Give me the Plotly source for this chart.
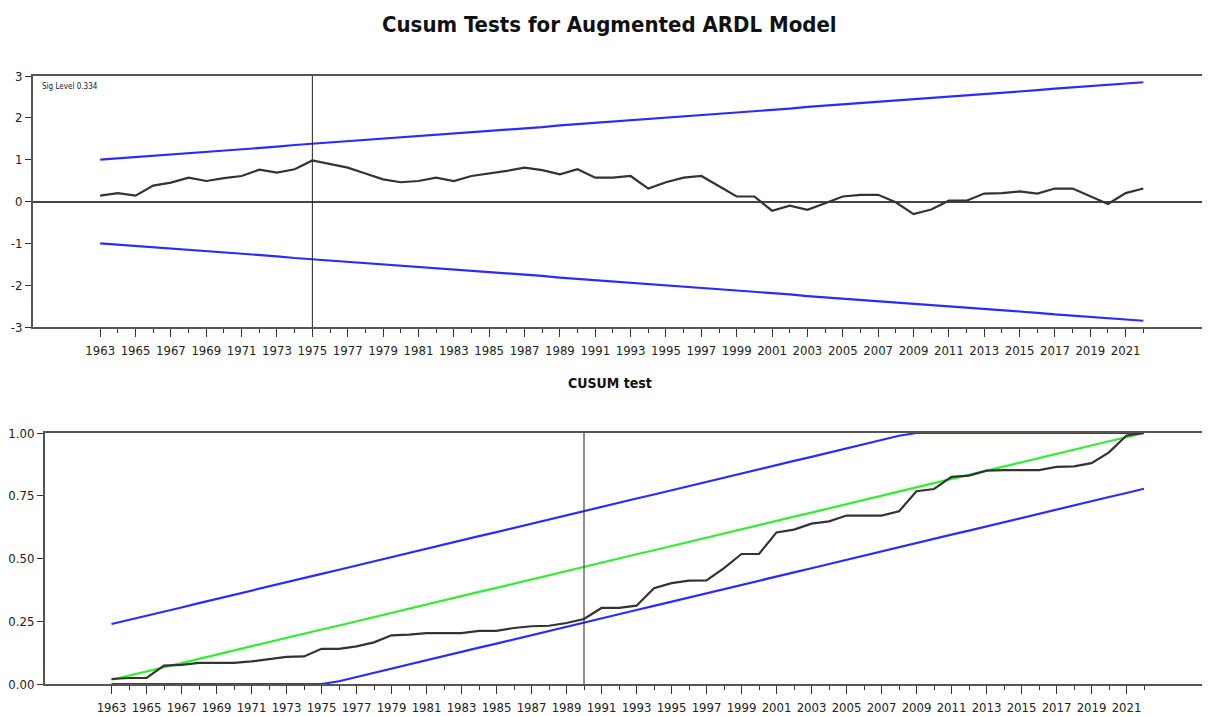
import plotly.graph_objects as go

FONT = "DejaVu Sans Condensed, Liberation Sans Narrow, Arial Narrow, sans-serif"

years = list(range(1963, 2023))

# top panel: CUSUM with 5% bounds
cusum = [
    0.14, 0.20, 0.14, 0.38, 0.45, 0.57, 0.49, 0.56, 0.61, 0.76,
    0.69, 0.77, 0.98, 0.89, 0.81, 0.67, 0.53, 0.46, 0.49, 0.57,
    0.49, 0.61, 0.67, 0.73, 0.81, 0.75, 0.65, 0.77, 0.57, 0.57,
    0.61, 0.31, 0.46, 0.57, 0.61, 0.37, 0.12, 0.12, -0.22, -0.10,
    -0.20, -0.04, 0.12, 0.16, 0.16, -0.02, -0.30, -0.19, 0.02, 0.02,
    0.19, 0.20, 0.24, 0.19, 0.31, 0.31, 0.12, -0.06, 0.20, 0.31,
]
cusum_upper = [
    1.00, 1.03, 1.06, 1.09, 1.13, 1.16, 1.19, 1.22, 1.25, 1.28,
    1.31, 1.35, 1.38, 1.41, 1.44, 1.47, 1.50, 1.53, 1.56, 1.60,
    1.63, 1.66, 1.69, 1.72, 1.75, 1.78, 1.82, 1.85, 1.88, 1.91,
    1.94, 1.97, 2.00, 2.04, 2.07, 2.10, 2.13, 2.16, 2.19, 2.22,
    2.26, 2.29, 2.32, 2.35, 2.38, 2.41, 2.44, 2.48, 2.51, 2.54,
    2.57, 2.60, 2.63, 2.66, 2.70, 2.73, 2.76, 2.79, 2.82, 2.85,
]
cusum_lower = [
    -1.00, -1.03, -1.06, -1.09, -1.13, -1.16, -1.19, -1.22, -1.25, -1.28,
    -1.31, -1.35, -1.38, -1.41, -1.44, -1.47, -1.50, -1.53, -1.56, -1.60,
    -1.63, -1.66, -1.69, -1.72, -1.75, -1.78, -1.82, -1.85, -1.88, -1.91,
    -1.94, -1.97, -2.00, -2.04, -2.07, -2.10, -2.13, -2.16, -2.19, -2.22,
    -2.26, -2.29, -2.32, -2.35, -2.38, -2.41, -2.44, -2.48, -2.51, -2.54,
    -2.57, -2.60, -2.63, -2.66, -2.70, -2.73, -2.76, -2.79, -2.82, -2.85,
]

# bottom panel: CUSUM of squares with expected path and bounds
cusumsq = [
    0.020, 0.024, 0.024, 0.073, 0.076, 0.084, 0.084, 0.084, 0.090, 0.100,
    0.108, 0.110, 0.140, 0.140, 0.150, 0.166, 0.194, 0.197, 0.203, 0.203,
    0.203, 0.212, 0.212, 0.223, 0.230, 0.232, 0.243, 0.259, 0.303, 0.303,
    0.312, 0.382, 0.402, 0.412, 0.413, 0.462, 0.518, 0.518, 0.604, 0.615,
    0.639, 0.648, 0.671, 0.671, 0.671, 0.688, 0.768, 0.777, 0.825, 0.830,
    0.850, 0.852, 0.852, 0.852, 0.865, 0.867, 0.880, 0.923, 0.990, 1.000,
]
cusumsq_expected = [
    0.017, 0.033, 0.050, 0.067, 0.083, 0.100, 0.117, 0.133, 0.150, 0.167,
    0.183, 0.200, 0.217, 0.233, 0.250, 0.267, 0.283, 0.300, 0.317, 0.333,
    0.350, 0.367, 0.383, 0.400, 0.417, 0.433, 0.450, 0.467, 0.483, 0.500,
    0.517, 0.533, 0.550, 0.567, 0.583, 0.600, 0.617, 0.633, 0.650, 0.667,
    0.683, 0.700, 0.717, 0.733, 0.750, 0.767, 0.783, 0.800, 0.817, 0.833,
    0.850, 0.867, 0.883, 0.900, 0.917, 0.933, 0.950, 0.967, 0.983, 1.000,
]
cusumsq_upper = [
    0.239, 0.255, 0.272, 0.289, 0.305, 0.322, 0.339, 0.355, 0.372, 0.389,
    0.405, 0.422, 0.439, 0.455, 0.472, 0.489, 0.505, 0.522, 0.539, 0.555,
    0.572, 0.589, 0.605, 0.622, 0.639, 0.655, 0.672, 0.689, 0.705, 0.722,
    0.739, 0.755, 0.772, 0.789, 0.805, 0.822, 0.839, 0.855, 0.872, 0.889,
    0.905, 0.922, 0.939, 0.955, 0.972, 0.989, 1.000, 1.000, 1.000, 1.000,
    1.000, 1.000, 1.000, 1.000, 1.000, 1.000, 1.000, 1.000, 1.000, 1.000,
]
cusumsq_lower = [
    0.000, 0.000, 0.000, 0.000, 0.000, 0.000, 0.000, 0.000, 0.000, 0.000,
    0.000, 0.000, 0.000, 0.011, 0.028, 0.045, 0.061, 0.078, 0.095, 0.111,
    0.128, 0.145, 0.161, 0.178, 0.195, 0.211, 0.228, 0.245, 0.261, 0.278,
    0.295, 0.311, 0.328, 0.345, 0.361, 0.378, 0.395, 0.411, 0.428, 0.445,
    0.461, 0.478, 0.495, 0.511, 0.528, 0.545, 0.561, 0.578, 0.595, 0.611,
    0.628, 0.645, 0.661, 0.678, 0.695, 0.711, 0.728, 0.745, 0.761, 0.778,
]

break_top = 1975
break_bottom = 1990
tick_years = list(range(1963, 2023, 2))
minor_years = list(range(1964, 2023, 2))
top_yticks = [-3, -2, -1, 0, 1, 2, 3]
bottom_yticks = [0, 0.25, 0.5, 0.75, 1.0]

BLUE = "#2b2bff"
GREEN = "#30ee30"
DARK = "#333333"

# the page body has an 8px margin, so the figure is sized to sit inside it
W, H = 1202, 708
OFF = 8


def px(x):
    return (x - OFF) / W


def py(y):
    return (716 - y) / H


fig = go.Figure()


def add_line(x, y, color, xa, ya, width=2.2):
    fig.add_trace(
        go.Scatter(
            x=x, y=y, mode="lines", line=dict(color=color, width=width),
            xaxis=xa, yaxis=ya, showlegend=False, hoverinfo="skip",
        )
    )


add_line(years, cusum_upper, BLUE, "x", "y")
add_line(years, cusum_lower, BLUE, "x", "y")
add_line(years, cusum, DARK, "x", "y")

add_line(years, cusumsq_upper, BLUE, "x2", "y2")
add_line(years, cusumsq_lower, BLUE, "x2", "y2")
add_line(years, cusumsq_expected, GREEN, "x2", "y2")
add_line(years, cusumsq, DARK, "x2", "y2")

xaxis_common = dict(
    range=[1959.2, 2025.6],
    tickmode="array",
    tickvals=tick_years,
    ticktext=[str(y) for y in tick_years],
    ticks="outside",
    ticklen=8,
    tickwidth=1,
    tickcolor="#333",
    minor=dict(tickmode="array", tickvals=minor_years, ticks="outside",
               ticklen=4, tickcolor="#333", showgrid=False),
    showgrid=False,
    zeroline=False,
    showline=True,
    linecolor="#555",
    linewidth=2,
    mirror=True,
    automargin=False,
    tickfont=dict(family=FONT, size=13, color="#222"),
    ticklabelstandoff=2,
)

yaxis_common = dict(
    tickmode="array",
    ticks="outside",
    ticklen=6,
    tickcolor="#333",
    showgrid=False,
    showline=True,
    linecolor="#555",
    linewidth=2,
    mirror=True,
    automargin=False,
    tickfont=dict(family=FONT, size=13, color="#222"),
)

fig.update_layout(
    width=W,
    height=H,
    autosize=False,
    margin=dict(l=0, r=0, t=0, b=0, pad=0),
    paper_bgcolor="white",
    plot_bgcolor="white",
    xaxis=dict(domain=[px(33), px(1207)], anchor="y", **xaxis_common),
    yaxis=dict(
        domain=[py(327), py(76)],
        anchor="x",
        range=[-3, 3],
        tickvals=top_yticks,
        ticktext=[str(v) for v in top_yticks],
        zeroline=True,
        zerolinecolor="#444",
        zerolinewidth=2,
        **yaxis_common,
    ),
    xaxis2=dict(domain=[px(45), px(1207)], anchor="y2", **xaxis_common),
    yaxis2=dict(
        domain=[py(684), py(433)],
        anchor="x2",
        range=[0, 1],
        tickvals=bottom_yticks,
        ticktext=[f"{v:.2f}" for v in bottom_yticks],
        zeroline=False,
        **yaxis_common,
    ),
    shapes=[
        dict(type="line", xref="x", yref="y domain", x0=break_top, x1=break_top,
             y0=0, y1=1, line=dict(color="#222", width=1)),
        dict(type="line", xref="x2", yref="y2 domain", x0=break_bottom, x1=break_bottom,
             y0=0, y1=1, line=dict(color="#222", width=1)),
    ],
    annotations=[
        dict(text="<b>Cusum Tests for Augmented ARDL Model</b>", xref="paper", yref="paper",
             x=px(609), y=py(25), showarrow=False, xanchor="center", yanchor="middle",
             font=dict(family=FONT, size=22, color="#111")),
        dict(text="<b>CUSUM test</b>", xref="paper", yref="paper",
             x=px(610), y=py(383), showarrow=False, xanchor="center", yanchor="middle",
             font=dict(family=FONT, size=14, color="#111")),
        dict(text="Sig Level 0.334", xref="x domain", yref="y domain",
             x=0.006, y=0.985, showarrow=False, xanchor="left", yanchor="top",
             font=dict(family=FONT, size=8, color="#222")),
    ],
)

fig.write_html("out.html")
